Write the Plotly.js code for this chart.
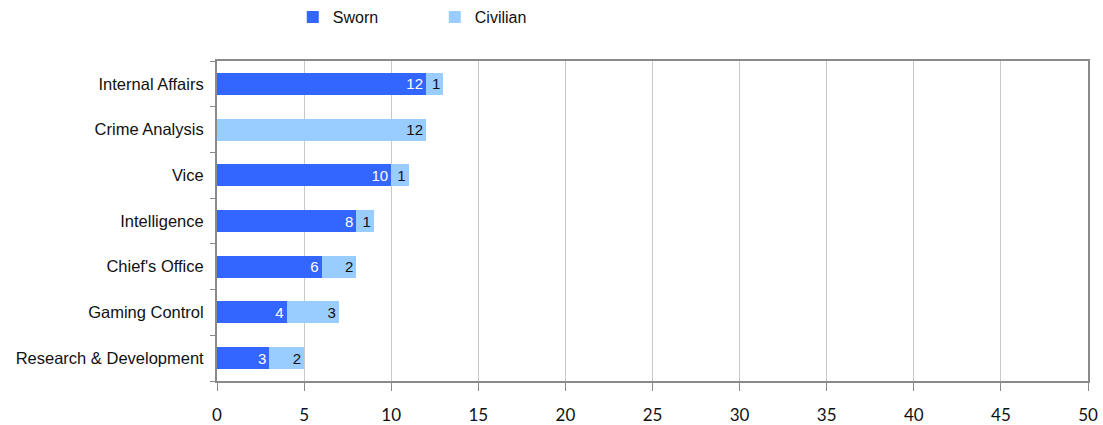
<!DOCTYPE html>
<html>
<head>
<meta charset="utf-8">
<script src="https://cdn.plot.ly/plotly-3.0.1.min.js"></script>
<style>html,body{margin:0;padding:0;background:#fff;}#chart{width:1103px;height:425px;}</style>
</head>
<body>
<div id="chart"></div>
<script>
const categories = ["Research & Development", "Gaming Control", "Chief's Office", "Intelligence", "Vice", "Crime Analysis", "Internal Affairs"];
const sworn = [3, 4, 6, 8, 10, 0, 12];
const civilian = [2, 3, 2, 1, 1, 12, 1];
const xTicks = [0, 5, 10, 15, 20, 25, 30, 35, 40, 45, 50];

const lab = v => v.map(x => x > 0 ? String(x) : "");

const traces = [
  {
    type: "bar", orientation: "h", name: "Sworn",
    y: categories, x: sworn, width: 0.48,
    marker: {color: "#3366FF"},
    text: lab(sworn), textposition: "inside", insidetextanchor: "end", textangle: 0,
    constraintext: "none", cliponaxis: false,
    textfont: {color: "#ffffff", size: 15, family: "Liberation Sans, Arial, sans-serif"},
    hoverinfo: "x+y"
  },
  {
    type: "bar", orientation: "h", name: "Civilian",
    y: categories, x: civilian, width: 0.48,
    marker: {color: "#99CCFF"},
    text: lab(civilian), textposition: "inside", insidetextanchor: "end", textangle: 0,
    constraintext: "none", cliponaxis: false,
    textfont: {color: "#111111", size: 15, family: "Liberation Sans, Arial, sans-serif"},
    hoverinfo: "x+y"
  }
];

const layout = {
  width: 1103, height: 425,
  margin: {l: 217, r: 15, t: 61, b: 44, autoexpand: false},
  barmode: "stack",
  paper_bgcolor: "#ffffff", plot_bgcolor: "#ffffff",
  font: {family: "Liberation Sans, Arial, sans-serif", color: "#111111", size: 15},
  showlegend: true,
  legend: {
    orientation: "h", x: 0.087, xanchor: "left", y: 1.1375, yanchor: "middle",
    entrywidth: 97, entrywidthmode: "pixels",
    font: {size: 16, family: "Liberation Sans, Arial, sans-serif", color: "#111"},
    traceorder: "normal"
  },
  xaxis: {
    range: [0, 50], tickvals: xTicks, ticktext: xTicks.map(String),
    showgrid: true, gridcolor: "#c8c8c8", gridwidth: 1,
    showline: true, linecolor: "#8a8a8a", linewidth: 2, mirror: true,
    ticks: "outside", ticklen: 8, tickcolor: "#8a8a8a", tickwidth: 1,
    ticklabelstandoff: 10,
    tickfont: {size: 17, family: "Lato, Liberation Sans, sans-serif", color: "#111"},
    zeroline: false, fixedrange: true
  },
  yaxis: {
    type: "category", categoryorder: "array", categoryarray: categories,
    showgrid: false,
    showline: true, linecolor: "#8a8a8a", linewidth: 2, mirror: true,
    ticks: "outside", ticklen: 5, tickcolor: "#8a8a8a", tickson: "boundaries",
    ticklabelstandoff: 8,
    tickfont: {size: 16.5, family: "Liberation Sans, Arial, sans-serif", color: "#111"},
    fixedrange: true
  }
};

Plotly.newPlot("chart", traces, layout, {displayModeBar: false, staticPlot: true});
</script>
</body>
</html>
